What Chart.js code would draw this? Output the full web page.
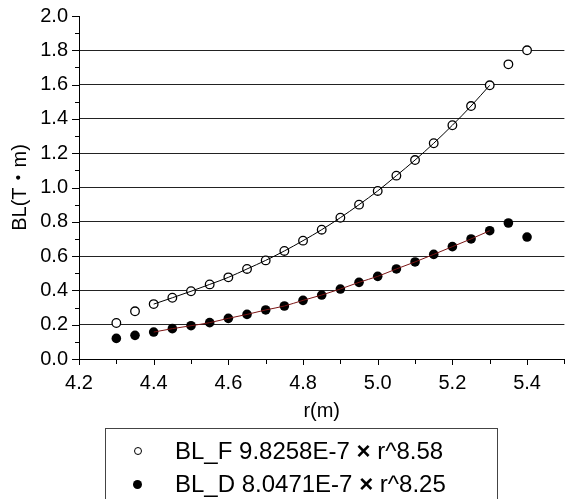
<!DOCTYPE html>
<html>
<head>
<meta charset="utf-8">
<script src="https://cdn.jsdelivr.net/npm/chart.js@4.4.1/dist/chart.umd.min.js"></script>
<style>
  html, body { margin: 0; padding: 0; background: #fff; }
  #wrap { position: relative; width: 565px; height: 499px; overflow: hidden; font-family: "Liberation Sans", Arial, sans-serif; }
  #chart { position: absolute; left: 0; top: 0; }
  #legend {
    position: absolute; left: 105px; top: 428px; width: 393px; height: 90px;
    border: 1px solid #444; box-sizing: border-box; font-size: 24px; color: #000;
  }
  .row { position: absolute; left: 0; height: 30px; line-height: 30px; white-space: nowrap; }
  .row span.txt { position: absolute; left: 69px; top: 0; }
  .mk { position: absolute; box-sizing: border-box; border-radius: 50%; }
  .mk.open { width: 8px; height: 8px; left: 28px; top: 11px; border: 1.3px solid #000; background: #fff; }
  .mk.fill { width: 9px; height: 9px; left: 27px; top: 11px; background: #000; }
</style>
</head>
<body>
<div id="wrap">
  <canvas id="chart" width="570" height="499"></canvas>
  <div id="legend">
    <div class="row" style="top:7px"><span class="mk open"></span><span class="txt">BL_F 9.8258E-7 <b>×</b> r^8.58</span></div>
    <div class="row" style="top:40px"><span class="mk fill"></span><span class="txt">BL_D 8.0471E-7 <b>×</b> r^8.25</span></div>
  </div>
</div>
<script>
// 数据
const rValues = [4.3, 4.35, 4.4, 4.45, 4.5, 4.55, 4.6, 4.65, 4.7, 4.75, 4.8, 4.85,
  4.9, 4.95, 5.0, 5.05, 5.1, 5.15, 5.2, 5.25, 5.3, 5.35, 5.4]
const blF = [0.21, 0.278, 0.32, 0.357, 0.395, 0.435, 0.476, 0.525, 0.575, 0.63, 0.69, 0.754,
  0.824, 0.90, 0.98, 1.069, 1.16, 1.258, 1.363, 1.475, 1.596, 1.718, 1.80]
const blD = [0.12, 0.138, 0.157, 0.177, 0.194, 0.212, 0.237, 0.26, 0.286, 0.309, 0.342, 0.373,
  0.408, 0.447, 0.482, 0.525, 0.566, 0.61, 0.655, 0.70, 0.748, 0.793, 0.711]
const fitRange = [4.4, 5.3]
const xTickLabels = ['4.2', '4.4', '4.6', '4.8', '5.0', '5.2', '5.4']
const yTickLabels = ['0.0', '0.2', '0.4', '0.6', '0.8', '1.0', '1.2', '1.4', '1.6', '1.8', '2.0']

const toPoints = ys => rValues.map((r, i) => ({ x: r, y: ys[i] }))
const fitPoints = ys => toPoints(ys).filter(p => p.x >= fitRange[0] - 1e-9 && p.x <= fitRange[1] + 1e-9)
const isMajor = v => Math.round(v * 10) % 2 === 0
const fontFamily = '"Liberation Sans", Arial, "Noto Sans CJK JP", sans-serif'

// 刻度线：主刻度长，次刻度短
const tickMarks = {
  id: 'tickMarks',
  afterDraw: (chart) => {
    const { ctx, chartArea, scales } = chart
    ctx.save()
    ctx.strokeStyle = '#000'
    ctx.lineWidth = 1
    scales.x.ticks.forEach(t => {
      const px = Math.round(scales.x.getPixelForValue(t.value)) + 0.5
      const len = isMajor(t.value) ? 6 : 5
      ctx.beginPath()
      ctx.moveTo(px, chartArea.bottom)
      ctx.lineTo(px, chartArea.bottom + len)
      ctx.stroke()
    })
    scales.y.ticks.forEach(t => {
      const py = Math.round(scales.y.getPixelForValue(t.value)) + 0.5
      const len = isMajor(t.value) ? 7 : 4
      ctx.beginPath()
      ctx.moveTo(chartArea.left, py)
      ctx.lineTo(chartArea.left - len, py)
      ctx.stroke()
    })
    ctx.restore()
  }
}

new Chart(document.getElementById('chart').getContext('2d'), {
  type: 'scatter',
  data: {
    datasets: [
      {
        label: 'fit F',
        type: 'line',
        data: fitPoints(blF),
        borderColor: '#000',
        borderWidth: 1,
        pointRadius: 0,
        cubicInterpolationMode: 'monotone',
        fill: false
      },
      {
        label: 'fit D',
        type: 'line',
        data: fitPoints(blD),
        borderColor: '#7a1414',
        borderWidth: 1,
        pointRadius: 0,
        cubicInterpolationMode: 'monotone',
        fill: false
      },
      {
        label: 'BL_F',
        data: toPoints(blF),
        pointRadius: 4.3,
        pointBorderWidth: 1.3,
        pointBorderColor: '#000',
        pointBackgroundColor: '#fff'
      },
      {
        label: 'BL_D',
        data: toPoints(blD),
        pointRadius: 4.8,
        pointBorderWidth: 0,
        pointBorderColor: '#000',
        pointBackgroundColor: '#000'
      }
    ]
  },
  options: {
    responsive: false,
    animation: false,
    layout: { padding: { top: 16, right: 1, bottom: 76, left: 0 } },
    plugins: {
      legend: { display: false },
      tooltip: { enabled: false }
    },
    scales: {
      x: {
        type: 'linear',
        min: 4.2,
        max: 5.5,
        afterFit: s => { s.height = 64; s.paddingLeft = 0; s.paddingRight = 0 },
        afterBuildTicks: s => { s.ticks = Array.from({ length: 14 }, (_, i) => ({ value: +(4.2 + i * 0.1).toFixed(1) })) },
        ticks: {
          autoSkip: false,
          maxRotation: 0,
          padding: 12,
          color: '#000',
          font: { family: fontFamily, size: 20 },
          callback: v => isMajor(v) ? xTickLabels[Math.round((v - 4.2) * 5)] : ''
        },
        grid: { drawOnChartArea: false, drawTicks: false },
        border: { display: true, color: '#000', width: 1 },
        title: {
          display: true,
          text: 'r(m)',
          color: '#000',
          padding: 0,
          font: { family: fontFamily, size: 20 }
        }
      },
      y: {
        min: 0,
        max: 2,
        afterFit: s => { s.width = 79; s.paddingTop = 0; s.paddingBottom = 0 },
        afterBuildTicks: s => { s.ticks = Array.from({ length: 21 }, (_, i) => ({ value: +(i * 0.1).toFixed(1) })) },
        ticks: {
          autoSkip: false,
          padding: 11,
          color: '#000',
          font: { family: fontFamily, size: 20 },
          callback: v => isMajor(v) ? yTickLabels[Math.round(v * 5)] : ''
        },
        grid: {
          drawTicks: false,
          color: c => (isMajor(c.tick.value) && c.tick.value > 0.05 && c.tick.value < 1.95) ? '#222' : 'rgba(0,0,0,0)'
        },
        border: { display: true, color: '#000', width: 1 },
        title: {
          display: true,
          text: 'BL(T・m)',
          color: '#000',
          padding: { top: 8, bottom: 0 },
          font: { family: fontFamily, size: 20 }
        }
      }
    }
  },
  plugins: [tickMarks]
})
</script>
</body>
</html>
